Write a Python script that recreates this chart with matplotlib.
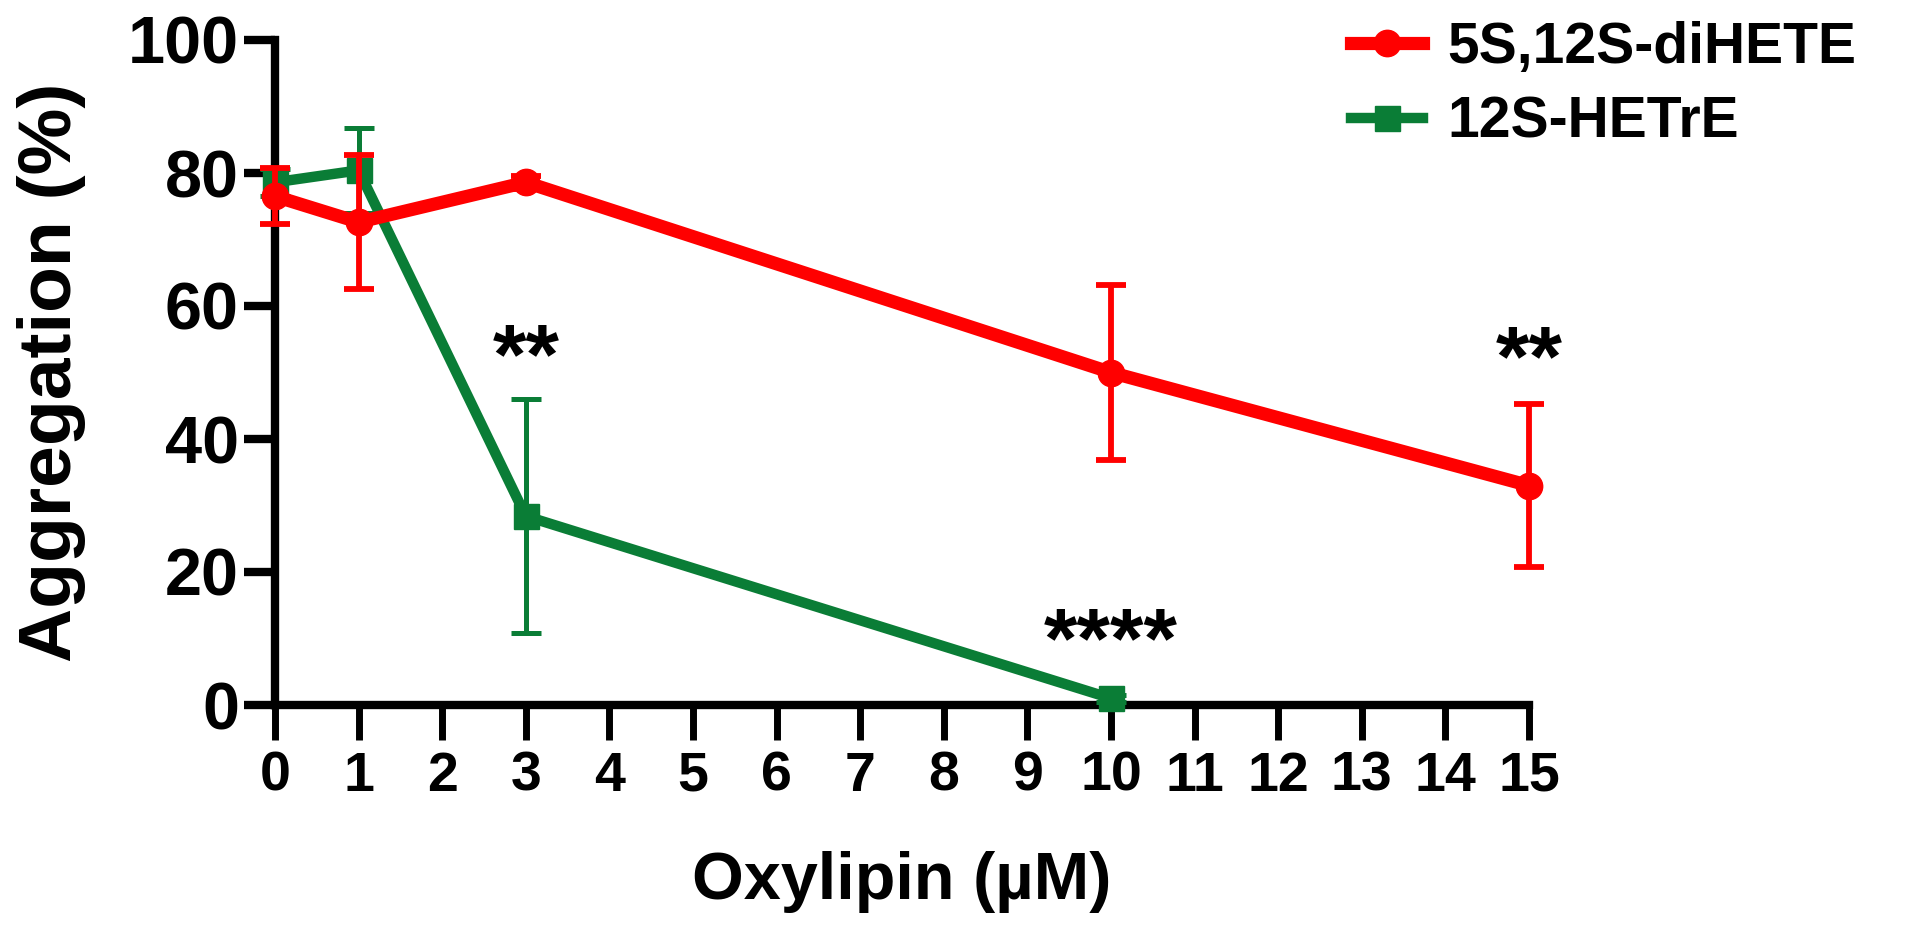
import matplotlib
matplotlib.use('Agg')
import matplotlib.pyplot as plt
from matplotlib.lines import Line2D

plt.rcParams['font.family'] = ['Liberation Sans', 'DejaVu Sans']
plt.rcParams['font.weight'] = 'bold'

# data
conc = [0, 1, 3, 10, 15]
dihete = [76.5, 72.6, 78.6, 50.0, 33.0]
dihete_err = [4.2, 10.1, 1.0, 13.1, 12.3]

conc_g = [0, 1, 3, 10]
hetre = [78.6, 80.4, 28.4, 1.0]
hetre_err = [2.0, 6.4, 17.6, 0.5]

stars = [(3, 48.4, '**'), (10, 5.7, '****'), (15, 48.1, '**')]

xticks = list(range(0, 16))
yticks = [0, 20, 40, 60, 80, 100]

RED = '#ff0000'
GREEN = '#0a7d36'

fig = plt.figure(figsize=(19.2, 9.32), dpi=100)
ax = fig.add_axes([275 / 1920, 1 - 705 / 932, 1254 / 1920, 665 / 932])

# green series first, red on top
ax.errorbar(conc_g, hetre, yerr=hetre_err, color=GREEN, ecolor=GREEN,
            elinewidth=3.6, capsize=11, capthick=3.6, lw=7.5, marker='s',
            ms=18, mec=GREEN, mfc=GREEN, clip_on=False, zorder=3)
ax.errorbar(conc, dihete, yerr=dihete_err, color=RED, ecolor=RED,
            elinewidth=4.2, capsize=11, capthick=4.2, lw=9.5, marker='o',
            ms=19, clip_on=False, zorder=4)

for x, y, s in stars:
    ax.text(x, y, s, ha='center', va='baseline', fontsize=62, fontweight='bold')

ax.set_xlim(0, 15)
ax.set_ylim(0, 100)
ax.set_xticks(xticks)
ax.set_yticks(yticks)
ax.tick_params(axis='y', length=22, width=6, labelsize=48, pad=4)
ax.tick_params(axis='x', length=25, width=5, labelsize=40, pad=8)
for lab in ax.get_xticklabels() + ax.get_yticklabels():
    lab.set_fontweight('bold')

for s in ['top', 'right']:
    ax.spines[s].set_visible(False)
for s in ['left', 'bottom']:
    ax.spines[s].set_linewidth(6)

fig.text(52 / 1920, 1 - 372 / 932, 'Aggregation (%)', rotation=90,
         ha='center', va='center', fontsize=54, fontweight='bold')
fig.text(902 / 1920, 1 - 882 / 932, 'Oxylipin (µM)', ha='center',
         va='center', fontsize=48, fontweight='bold')

handles = [
    Line2D([], [], color=RED, lw=9.5, marker='o', ms=19),
    Line2D([], [], color=GREEN, lw=7.5, marker='s', ms=18),
]
fig.legend(handles, ['5S,12S-diHETE', '12S-HETrE'], loc='upper left',
           bbox_to_anchor=(1351 / 1920, 1 - 21 / 932), frameon=False,
           borderpad=0, borderaxespad=0,
           prop={'size': 41, 'weight': 'bold'}, handlelength=1.27,
           handletextpad=0.42, labelspacing=0.36)

fig.savefig('out.png', dpi=100)
